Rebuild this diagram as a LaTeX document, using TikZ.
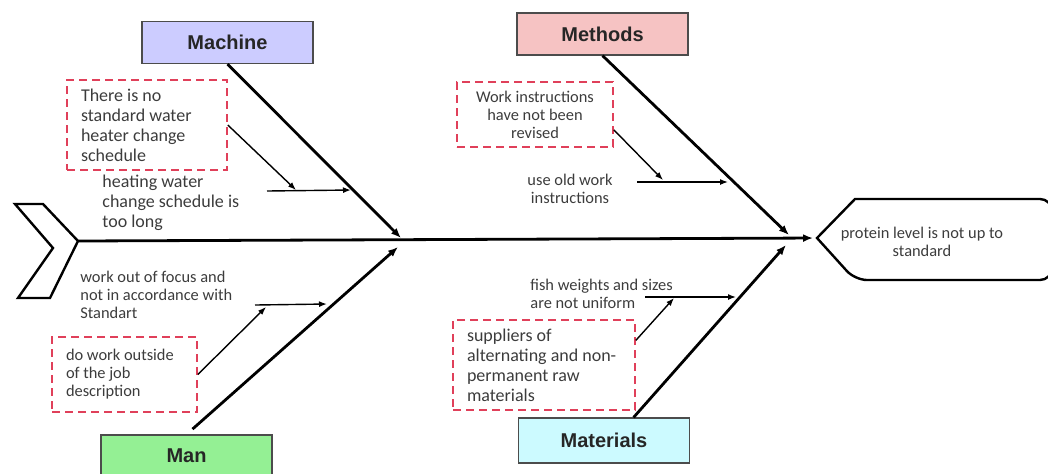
\documentclass[tikz,border=0pt]{standalone}
\usepackage{fontspec}
\setmainfont{Carlito}
\newfontfamily\catfont{Liberation Sans}
\usetikzlibrary{arrows.meta}

\definecolor{machfill}{HTML}{CCCCFF}
\definecolor{methfill}{HTML}{F6C3C3}
\definecolor{manfill}{HTML}{94F094}
\definecolor{matfill}{HTML}{CCFAFF}
\definecolor{dashred}{HTML}{E0405A}
\definecolor{txtgray}{HTML}{3C3C3C}

\newcommand{\txtA}{\fontsize{9}{10}\selectfont}
\newcommand{\txtB}{\fontsize{8.2}{9}\selectfont}

\tikzstyle{cat}=[draw=black!70,fill=#1,line width=0.6pt,minimum width=85.5pt,minimum height=21pt,font=\catfont\bfseries\fontsize{10}{12}\selectfont,text=black!85]
\tikzstyle{why}=[draw=dashred,dash pattern=on 4pt off 2.5pt,line width=0.8pt,inner xsep=7pt,text=txtgray]
\tikzstyle{note}=[text=txtgray,inner sep=1pt]
\newcommand{\mybranch}[4]{ \draw[twig] (#1) -- (#2); \draw[twig] (#3) -- (#4);}

\tikzset{
	bone/.style={line width=1.4pt,-{Latex[length=5pt,width=4pt]}},
	twig/.style={line width=0.7pt,-{Latex[length=4pt,width=3pt]}},
}

\begin{document}
\begin{tikzpicture}[x=0.5pt,y=-0.5pt]
    \clip (0,0) rectangle (1048,473);

    % tail and head
    \draw[line width=1.2pt] (15,204) -- (43,204) -- (78,241) -- (50,298) -- (18,298) -- (53,248) -- cycle;
    \coordinate (tail) at (78,241);
    \coordinate (tip) at (817,238);
    \draw[line width=1.2pt] (tip) -- (855,199) [rounded corners=6pt] -- (1052,199) -- (1052,280) -- (855,280) [sharp corners] -- cycle;
    \node[note,align=center,font=\txtB] (prob) at (922,242) {protein level is not up to\\standard};
    \draw[bone,shorten >=2pt] (tail) -- (tip);

    % categories
    \node[cat=machfill] (mach) at (227.5,42.5) {Machine};
    \node[cat=methfill] (meth) at (602.5,34) {Methods};
    \node[cat=manfill] (man) at (186.5,456) {Man};
    \node[cat=matfill,minimum height=22.5pt] (mat) at (604,440.5) {Materials};

    \coordinate (j1) at (401,238);
    \coordinate (j2) at (398,247);
    \coordinate (j3) at (789,235);
    \coordinate (j4) at (786,245);
    \draw[bone] (mach.south) -- (j1);
    \draw[bone,shorten <=4pt] (man.north) -- (j2);
    \draw[bone] (meth.south) -- (j3);
    \draw[bone] (mat.38) -- (j4);

    % causes
    \node[why,align=flush left,font=\txtA,text width=66pt,minimum height=45pt] (c1) at (147,125) {There is no\\standard water\\heater change\\schedule};
    \node[why,align=flush left,font=\txtB,text width=58.5pt,minimum height=37.5pt] (c2) at (124.5,374.5) {do work outside\\of the job\\description};
    \node[why,align=flush center,font=\txtB,text width=64pt,minimum height=32.5pt] (c3) at (535,114.5) {Work instructions\\have not been\\revised};
    \node[why,align=flush left,font=\txtA,text width=77pt,minimum height=45pt] (c4) at (544,365) {suppliers of\\alternating and non-\\permanent raw\\materials};

    \node[note,align=left,font=\txtA,anchor=west] (t1) at (100,203) {heating water\\change schedule is\\too long};
    \node[note,align=left,font=\txtB,anchor=west] (t2) at (78,295) {work out of focus and\\not in accordance with\\Standart};
    \node[note,align=center,font=\txtB] (t3) at (570,189) {use old work\\instructions};
    \node[note,align=left,font=\txtB,anchor=west] (t4) at (528,294) {fish weights and sizes\\are not uniform};

    \coordinate (h1a) at (267,191); \coordinate (h1b) at (351,190); \coordinate (p1) at (296,190);
    \coordinate (h2a) at (255,305); \coordinate (h2b) at (327,304); \coordinate (p2) at (266,307);
    \coordinate (h3a) at (637,182); \coordinate (h3b) at (728,182); \coordinate (p3) at (663,180);
    \coordinate (h4a) at (645,297); \coordinate (h4b) at (736,297); \coordinate (p4) at (674,298);

    \mybranch{c1.east}{p1}{h1a}{h1b}
    \mybranch{c2.east}{p2}{h2a}{h2b}
    \mybranch{c3.-11}{p3}{h3a}{h3b}
    \mybranch{c4.15}{p4}{h4a}{h4b}
\end{tikzpicture}
\end{document}
